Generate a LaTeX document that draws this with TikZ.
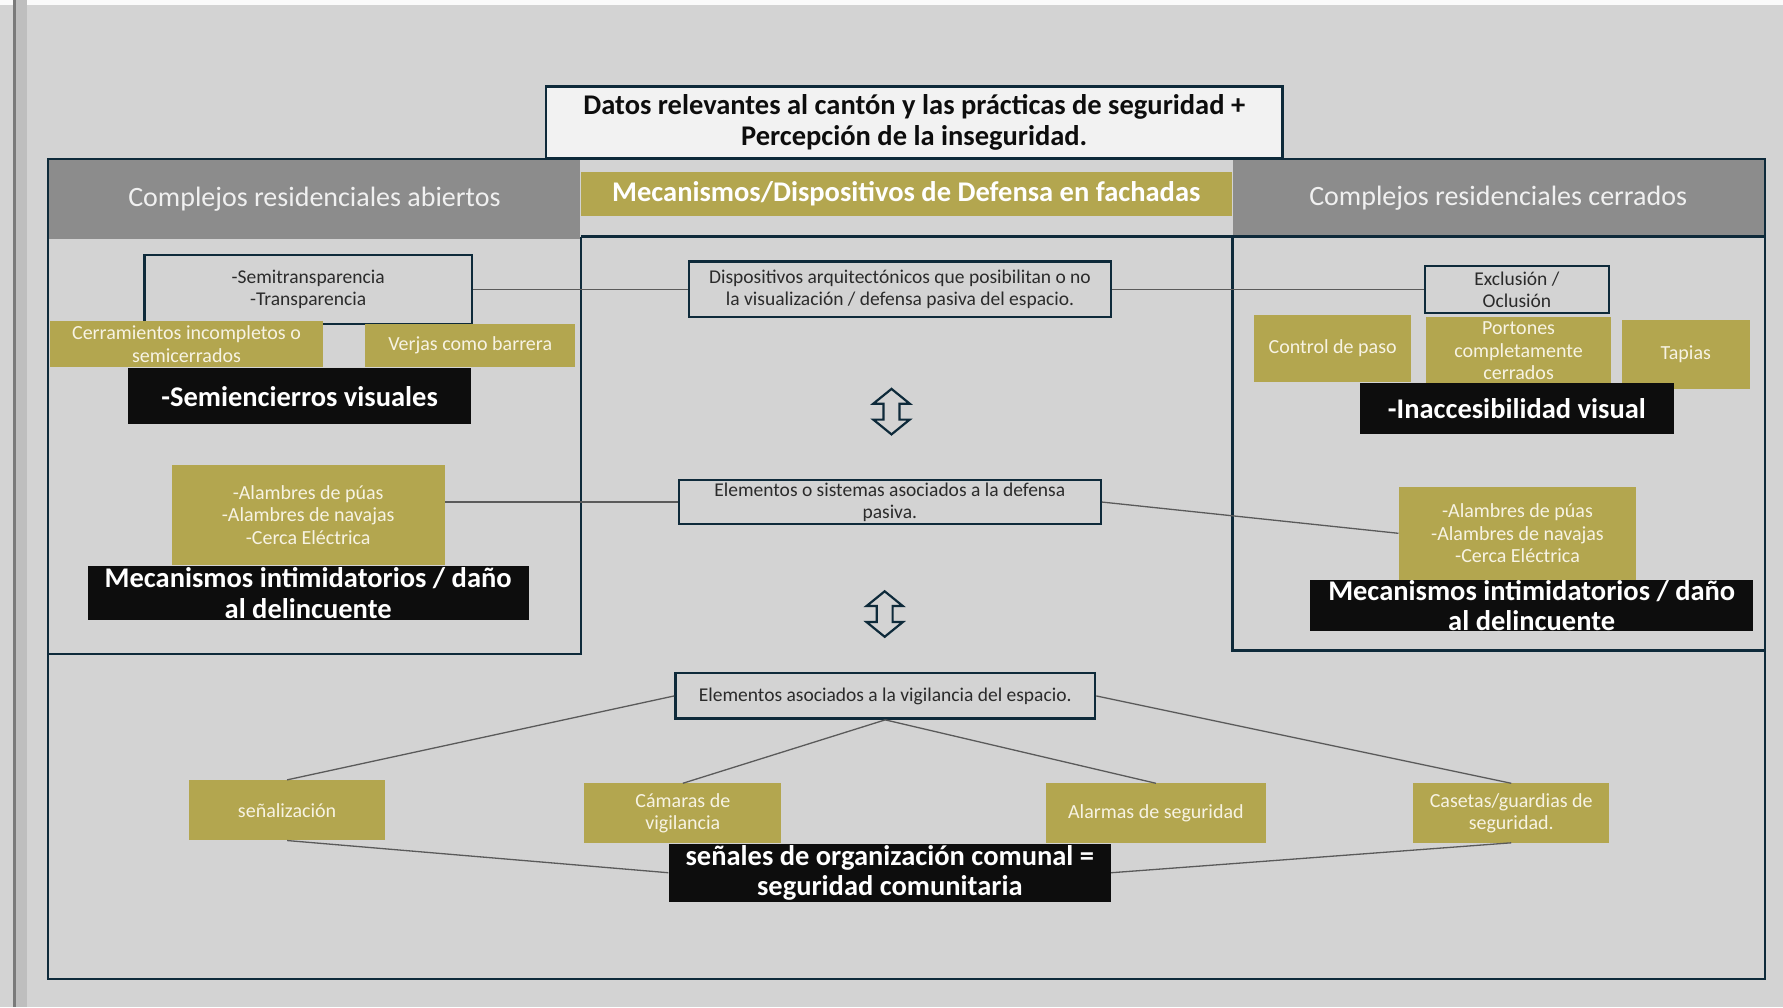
\documentclass[tikz,border=0pt]{standalone}
\usepackage{fontspec}
\setmainfont{Carlito}
\definecolor{bgc}{HTML}{D3D3D3}
\definecolor{navy}{HTML}{0E2A3A}
\definecolor{hdrgray}{HTML}{8C8C8C}
\definecolor{mustard}{HTML}{B3A64F}
\definecolor{mtext}{HTML}{F7F3E3}
\definecolor{blk}{HTML}{0D0D0D}
\definecolor{conng}{HTML}{5A5A5A}
\definecolor{dtext}{HTML}{2B2B2B}
\definecolor{titlefill}{HTML}{F2F2F2}
\definecolor{stripdark}{HTML}{7A7A7A}
\definecolor{stripmid}{HTML}{BEBEBE}
\begin{document}
\begin{tikzpicture}[x=1.13712pt,y=-1.13712pt,
  bx/.style args={#1/#2/#3/#4}{at={({(#1+#3)/2},{(#2+#4)/2})},
     minimum width={(#3-#1)*1.13712pt}, minimum height={(#4-#2)*1.13712pt}},
  frame/.style={draw=navy,line width=2.4pt},
  nbox/.style={draw=navy,line width=2.4pt,inner sep=0pt,align=center,text=dtext,font=\fontsize{19.5}{22}\selectfont},
  mbox/.style={fill=mustard,inner sep=0pt,align=center,text=mtext,font=\fontsize{20}{22.5}\selectfont},
  bbox/.style={fill=blk,inner sep=0pt,align=center,text=white,font=\bfseries\fontsize{28.5}{30.5}\selectfont},
  hbox/.style={fill=hdrgray,inner sep=0pt,align=center,text=white!94!black,font=\fontsize{28}{32}\selectfont},
  conn/.style={draw=conng,line width=1.3pt},
  dbl/.style={draw=navy,line width=2.2pt,line join=miter},
  dblarrow/.pic={\draw[dbl] (0,-20) -- (16,-7) -- (7,-7) -- (7,7) -- (16,7) -- (0,20) -- (-16,7) -- (-7,7) -- (-7,-7) -- (-16,-7) -- cycle;}]
% background
\fill[bgc] (0,0) rectangle (1568,886);
\useasboundingbox (0,0) rectangle (1568,886);
\fill[white!96!gray] (0,0) rectangle (1568,4);
\fill[stripdark] (11,0) rectangle (14,886);
\fill[stripmid] (14,0) rectangle (24,886);
% headers
\node[hbox, bx=43/141/510/210] (hdrL) {Complejos residenciales abiertos};
\node[hbox, bx=1084/141/1551/208] (hdrR) {Complejos residenciales cerrados};
\node[fill=mustard,inner sep=0pt,text=white,font=\bfseries\fontsize{28.5}{32}\selectfont, bx=511/151/1083/190] (hdrM) {Mecanismos/Dispositivos de Defensa en fachadas};
% frame
\draw[frame] (42,140) rectangle (1552,861);
\draw[frame] (511,208) -- (1552,208);
\draw[frame] (511,208) -- (511,575) -- (42,575);
\draw[frame] (1084,208) -- (1084,572) -- (1552,572);
% title
\node[draw=navy,line width=2.4pt,fill=titlefill,inner sep=0pt,align=center,text=blk,font=\bfseries\fontsize{28.5}{30.5}\selectfont, bx=480/76/1128/139] (title) {Datos relevantes al cantón y las prácticas de seguridad +\\Percepción de la inseguridad.};
% navy boxes
\node[nbox, bx=127/224/415/285] (semi) {-Semitransparencia\\-Transparencia};
\node[nbox, bx=606/230/977/279] (disp) {Dispositivos arquitectónicos que posibilitan o no\\la visualización / defensa pasiva del espacio.};
\node[nbox, bx=597/422/968/461] (defe) {Elementos o sistemas asociados a la defensa\\pasiva.};
\node[nbox, bx=594/592/963/632] (vig) {Elementos asociados a la vigilancia del espacio.};
\node[nbox, bx=1253/234/1415/275] (excl) {Exclusión /\\Oclusión};
% mustard boxes
\node[mbox, bx=44/282/284/323] (cerr) {Cerramientos incompletos o\\semicerrados};
\node[mbox, bx=321/285/506/323] (verj) {Verjas como barrera};
\node[mbox, bx=151/409/391/497] (alamL) {-Alambres de púas\\-Alambres de navajas\\-Cerca Eléctrica};
\node[mbox, bx=1103/277/1241/336] (ctrl) {Control de paso};
\node[mbox, bx=1254/279/1417/338] (port) {Portones\\completamente\\cerrados};
\node[mbox, bx=1426/281/1539/342] (tap) {Tapias};
\node[mbox, bx=1230/428/1439/510] (alamR) {-Alambres de púas\\-Alambres de navajas\\-Cerca Eléctrica};
\node[mbox, bx=166/686/339/739] (senal) {señalización};
\node[mbox, bx=514/689/687/741] (cam) {Cámaras de\\vigilancia};
\node[mbox, bx=920/689/1113/741] (alarm) {Alarmas de seguridad};
\node[mbox, bx=1243/689/1415/741] (caset) {Casetas/guardias de\\seguridad.};
% black boxes
\node[bbox, bx=113/324/414/373] (semiv) {-Semiencierros visuales};
\node[bbox, bx=77/498/465/545] (mecL) {Mecanismos intimidatorios / daño\\al delincuente};
\node[bbox, bx=1196/337/1472/382] (inac) {-Inaccesibilidad visual};
\node[bbox, bx=1152/510/1542/555] (mecR) {Mecanismos intimidatorios / daño\\al delincuente};
\node[bbox, bx=588/742/977/793] (com) {señales de organización comunal =\\seguridad comunitaria};
% connectors
\draw[conn] (semi.east) -- (disp.west);
\draw[conn] (disp.east) -- (excl.west);
\draw[conn] (defe.west) -- (defe.west -| alamL.east);
\draw[conn] (defe.east) -- (alamR.west);
\draw[conn] (vig.west) -- (senal.north);
\draw[conn] (vig.south) -- (cam.north);
\draw[conn] (vig.south) -- (alarm.north);
\draw[conn] (vig.east) -- (caset.north);
\draw[conn] (senal.south) -- (com.west);
\draw[conn] (caset.south) -- (com.east);
% double arrows
\pic at (784,362) {dblarrow};
\pic at (778,540) {dblarrow};
\end{tikzpicture}
\end{document}
